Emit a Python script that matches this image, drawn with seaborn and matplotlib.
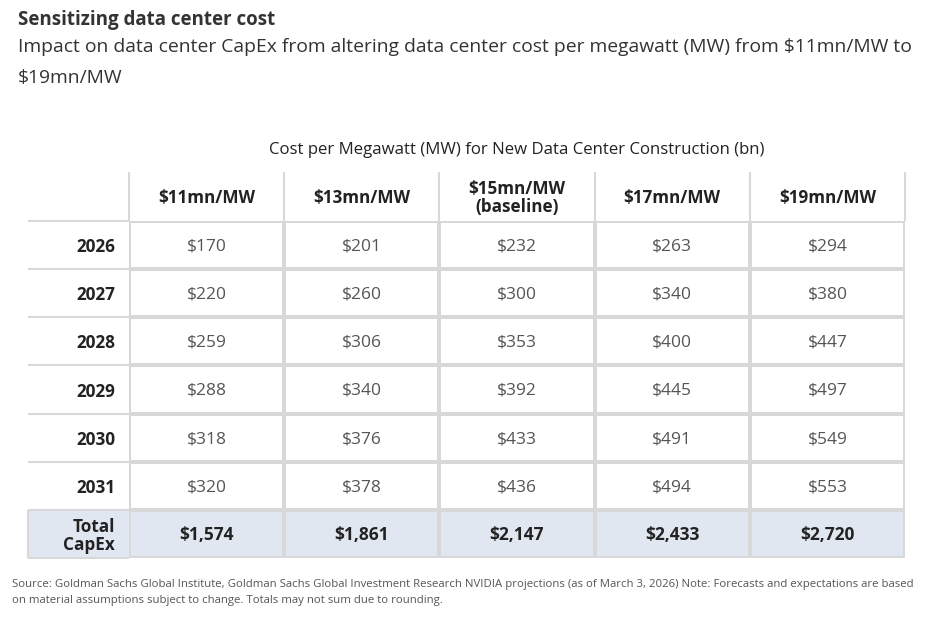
import numpy as np
import pandas as pd
import matplotlib.pyplot as plt
import seaborn as sns
from matplotlib.colors import ListedColormap
from matplotlib.patches import Rectangle
from matplotlib.transforms import ScaledTranslation

sns.set_style("white")
plt.rcParams['font.family'] = ['Open Sans', 'DejaVu Sans']
plt.rcParams['text.parse_math'] = False

# table contents
columns = ["$11mn/MW", "$13mn/MW", "$15mn/MW\n(baseline)", "$17mn/MW", "$19mn/MW"]
rows = ["2026", "2027", "2028", "2029", "2030", "2031", "Total\nCapEx"]
capex_11 = [170, 220, 259, 288, 318, 320, 1574]
capex_13 = [201, 260, 306, 340, 376, 378, 1861]
capex_15 = [232, 300, 353, 392, 433, 436, 2147]
capex_17 = [263, 340, 400, 445, 491, 494, 2433]
capex_19 = [294, 380, 447, 497, 549, 553, 2720]

values = pd.DataFrame({c: v for c, v in zip(columns,
                      [capex_11, capex_13, capex_15, capex_17, capex_19])}, index=rows)
labels = values.map(lambda v: "${:,}".format(v))
# shade only the total row
shade = pd.DataFrame(0, index=rows, columns=columns)
shade.iloc[-1, :] = 1

line_c = "#d8d8d8"
total_c = "#e1e7f1"
lw = 1.5

fig = plt.figure(figsize=(9.45, 6.2), dpi=100)
ax = fig.add_axes([129/945, 1-558/620, 776/945, 337/620])

sns.heatmap(shade, annot=labels, fmt="", cmap=ListedColormap(["white", total_c]),
            cbar=False, linewidths=lw, linecolor=line_c, ax=ax,
            annot_kws={"fontsize": 12.5, "color": "#555555"})

# totals in bold, nudge text a touch lower
for t in ax.texts:
    x, y = t.get_position()
    t.set_position((x, y + 0.03))
    if y > 6:
        t.set_fontweight("bold")
        t.set_color("#222222")

ax.xaxis.tick_top()
ax.set_xticklabels(columns, fontweight="bold", fontsize=12.3, color="#222222",
                   rotation=0, va="center", linespacing=1.05)
ax.set_yticklabels(rows, fontweight="bold", fontsize=12.3, color="#222222",
                   rotation=0, ha="right", va="center", linespacing=1.05)
ax.tick_params(axis="x", length=0, pad=16.5)
ax.tick_params(axis="y", length=0, pad=10)
shift = ScaledTranslation(0, -1.5/72, fig.dpi_scale_trans)
for lab in ax.get_yticklabels():
    lab.set_transform(lab.get_transform() + shift)
ax.set_xlabel("")
ax.set_ylabel("")

# row-label column: lines and total shading
lab_w = 101 / 155
ax.add_patch(Rectangle((-lab_w, 6), lab_w, 1, facecolor=total_c,
                       edgecolor="none", clip_on=False, zorder=0))
ax.hlines(np.arange(8), -lab_w, 0, colors=line_c, linewidth=lw, clip_on=False)
ax.vlines([-lab_w], 6, 7, colors=line_c, linewidth=lw, clip_on=False)
# header column separators
ax.vlines(np.arange(6), -1.02, 0, colors=line_c, linewidth=lw, clip_on=False)

fig.text(517/945, 1-149.5/620, "Cost per Megawatt (MW) for New Data Center Construction (bn)",
         ha="center", va="center", fontsize=12.1, color="#222222")

fig.text(18/945, 1-19.5/620, "Sensitizing data center cost", ha="left", va="center",
         fontsize=13.5, fontweight="bold", color="#333333")
fig.text(18/945, 1-38.5/620,
         "Impact on data center CapEx from altering data center cost per megawatt (MW) from $11mn/MW to\n$19mn/MW",
         ha="left", va="top", fontsize=13.9, color="#333333", linespacing=1.92)

fig.text(12/945, 1-579/620,
         "Source: Goldman Sachs Global Institute, Goldman Sachs Global Investment Research NVIDIA projections (as of March 3, 2026) Note: Forecasts and expectations are based\non material assumptions subject to change. Totals may not sum due to rounding.",
         ha="left", va="top", fontsize=8.2, color="#555555", linespacing=1.62)

fig.savefig("out.png", dpi=100)
